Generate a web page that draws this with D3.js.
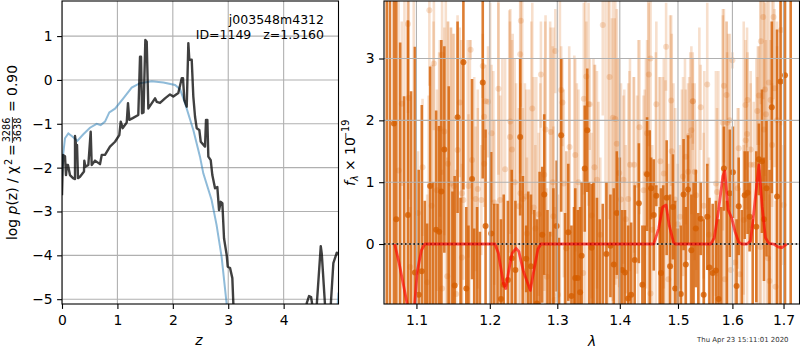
<!DOCTYPE html>
<html><head><meta charset="utf-8">
<script src="https://cdn.jsdelivr.net/npm/d3@7"></script>
<style>
html,body{margin:0;padding:0;background:#fff}
svg{display:block;font-family:"DejaVu Sans",sans-serif}
.tick text{font-size:13.9px;fill:#000}
</style></head><body><div id="c"></div>
<script>
const titleId="j003548m4312", titleLine="ID=1149   z=1.5160", stamp="Thu Apr 23 15:11:01 2020";
const zTicks=[0,1,2,3,4], logpTicks=[-5,-4,-3,-2,-1,0,1];
const waveTicks=[1.1,1.2,1.3,1.4,1.5,1.6,1.7], fluxTicks=[0,1,2,3];

const priorZ=[0.0,0.02,0.054,0.114,0.175,0.277,0.385,0.505,0.626,0.698,0.776,0.854,0.957,1.107,1.258,1.408,1.62,1.83,2.04,2.13,2.22,2.37,2.49,2.55,2.70,2.79,2.88,2.97,3.0,4.9,4.965,4.99];
const priorLogp=[-2.2,-1.71,-1.33,-1.22,-1.28,-1.39,-1.24,-1.09,-1.0,-1.03,-0.95,-0.74,-0.655,-0.42,-0.175,-0.075,-0.03,-0.06,-0.115,-0.21,-0.53,-1.14,-1.75,-2.13,-2.74,-3.31,-4.03,-5.09,-5.5,-5.5,-5.3,-4.85];

const pzZ=[0,0.018,0.054,0.072,0.09,0.108,0.144,0.199,0.235,0.235,0.253,0.271,0.289,0.325,0.397,0.403,0.421,0.475,0.518,0.536,0.596,0.686,0.717,0.776,0.866,0.957,1.034,1.06,1.096,1.168,1.191,1.215,1.276,1.377,1.408,1.426,1.444,1.471,1.504,1.529,1.558,1.679,1.709,1.769,1.859,1.949,2.009,2.099,2.161,2.184,2.208,2.251,2.28,2.298,2.341,2.37,2.401,2.431,2.478,2.504,2.581,2.599,2.623,2.641,2.684,2.713,2.762,2.803,2.834,2.865,2.894,2.924,2.973,2.991,3.033,3.074,3.092,3.11,4.4,4.417,4.458,4.495,4.518,4.597,4.67,4.688,4.747,4.85,4.897,4.959,4.987];
const pzLogp=[-2.63,-1.71,-1.74,-2.17,-1.94,-1.94,-2.17,-2.24,-2.26,-1.28,-1.48,-1.48,-2.24,-2.21,-2.09,-1.84,-1.98,-1.94,-1.18,-1.94,-1.84,-1.92,-1.71,-1.71,-1.52,-1.41,-1.26,-0.95,-1.10,-0.97,-0.53,-0.91,-0.87,-0.80,0.53,0.53,-0.76,-0.74,0.91,0.87,-0.65,-0.42,-0.50,-0.525,-0.42,-0.33,-0.38,-0.30,0.04,0.04,-0.46,-0.61,0.84,0.46,0.46,-0.38,-0.84,-1.10,-1.14,-1.41,-1.52,-0.91,-0.91,-1.75,-1.83,-2.17,-2.47,-2.44,-2.97,-2.78,-2.81,-3.61,-4.0,-4.26,-4.29,-4.52,-5.09,-5.5,-5.5,-5.09,-4.93,-4.95,-5.14,-5.14,-3.79,-3.96,-5.14,-5.14,-4.18,-3.94,-3.97];

const darkWave=[1.062,1.066,1.071,1.074,1.079,1.084,1.089,1.093,1.098,1.103,1.107,1.111,1.114,1.118,1.122,1.126,1.130,1.133,1.137,1.143,1.148,1.151,1.155,1.159,1.163,1.167,1.170,1.175,1.178,1.182,1.186,1.190,1.194,
1.202,1.2064,1.211,1.216,1.220,1.226,1.2316,1.237,1.244,1.248,1.253,1.256,1.260,1.265,1.269,1.273,1.277,1.280,1.285,1.289,1.294,1.299,1.3025,1.306,1.312,1.317,1.322,1.326,1.328,1.332,1.3356,1.338,1.343,1.347,1.350,
1.354,1.357,1.3626,1.367,1.372,1.378,1.3845,1.390,1.395,1.400,1.404,1.4086,1.414,1.419,1.425,1.432,1.438,1.442,1.446,1.4506,1.453,1.4575,1.462,1.468,1.470,1.474,1.480,1.486,1.491,1.495,1.4995,1.505,1.510,1.514,1.518,1.524,1.528,
1.532,1.5366,1.541,1.5464,1.553,1.557,1.563,1.569,1.574,1.579,1.584,1.5895,1.595,1.601,1.608,1.612,1.618,1.6235,1.629,1.633,1.639,1.646,1.651,1.657,1.661,1.666,1.672,1.6765,1.687,1.694,1.703,1.7145];
const darkFlux=[-1.3,-1.3,1.95,0.40,-1.3,-1.3,0.47,-1.3,-0.46,-0.82,-0.44,-1.3,-1.3,0.94,-1.3,0.23,0.20,0.85,1.53,-1.3,-1.3,-0.67,2.05,-1.3,2.94,-0.72,-1.3,1.05,-1.3,-1.3,-1.3,2.61,0.29,
0.17,-1.3,-1.3,-0.89,-0.66,-0.58,-0.23,-0.42,1.73,-1.3,-0.24,-1.3,-0.36,-1.3,-0.96,-1.3,0.15,0.80,-1.3,-1.3,-1.3,0.29,-1.3,1.76,-1.3,0.19,-0.84,-1.3,-0.55,-0.55,-0.78,-0.19,1.22,1.84,-1.3,
-0.06,-1.3,-1.3,-1.3,-1.3,-0.16,-0.03,-0.33,0.50,-1.3,-0.42,-0.46,-0.88,-0.82,-0.26,0.66,-0.66,-1.3,1.13,-1.3,0.90,0.47,0.78,-1.3,-0.47,-1.3,0.75,-0.36,0.60,-0.72,-1.3,-0.81,0.80,-0.33,0.88,-0.10,-1.3,
0.25,-1.3,0.41,-0.82,0.44,-0.38,-0.47,-0.43,-0.89,-1.3,1.22,-1.3,0.82,1.16,-0.68,0.61,-1.3,0.79,0.83,0.44,-1.3,0.28,1.37,1.34,0.40,0.90,-1.3,2.21,0.77,2.63,2.73,-1.3];
const darkTop=[5,5,5,5,3.26,2.39,3.62,2.47,3.19,1.2,2.25,0.7,0.33,2.87,1.0,2.16,1.91,3.3,3.2,2.55,0.85,1.1,3.6,0.75,5,0.6,0.3,2.67,0.25,0.6,0.2,4.16,1.85,
1.49,0.65,0.65,0.4,0.8,0.7,1.2,0.7,3.0,1.1,0.3,0.85,0.8,0.55,0.4,1.17,1.25,2.1,0.55,0.2,0.9,1.35,0.1,3.0,0.5,1.3,0.3,0.6,0.9,0.55,0.6,1.0,2.24,2.84,1.0,
0.97,1.0,0.75,0.4,0.65,1.0,0.8,0.9,1.5,1.4,0.55,0.55,0.3,0.35,0.95,1.63,0.3,0.3,2.05,1.84,1.4,1.37,0.95,0.6,0.9,0.95,1.68,0.8,1.45,0.7,0.25,0.3,1.7,0.6,1.76,0.8,1.0,
1.2,0.5,1.0,0.4,1.3,0.75,0.65,0.7,0.4,0.6,1.9,0.7,1.85,1.9,0.4,1.4,0.55,1.5,1.5,1.0,0.4,1.5,1.95,2.5,1.4,2.0,1.2,3.6,3.47,7,7.3,5];

const lightWave=[1.077,1.081,1.089,1.090,1.092,1.102,1.108,1.114,1.117,1.120,1.123,1.127,1.131,1.134,1.134,1.137,1.141,1.142,1.146,1.150,1.153,1.155,1.158,1.161,1.161,1.163,1.170,1.173,1.175,1.180,1.183,1.188,1.190,1.192,1.192,1.194,
1.0845,1.089,1.0965,1.116,1.1225,1.130,1.139,1.142,1.146,1.149,1.160,1.169,1.172,1.178,1.183,
1.1975,1.2025,1.2064,1.2123,1.2148,1.222,1.229,1.2296,1.232,1.236,1.242,1.244,1.2444,1.245,1.248,1.253,1.254,1.262,1.264,1.2666,1.2715,1.275,1.280,1.282,1.284,1.290,1.293,1.294,1.296,1.297,1.301,1.306,1.308,1.310,1.314,1.314,1.319,1.328,1.333,1.3405,1.3415,1.3455,1.349,
1.2005,1.205,1.2123,1.218,1.228,1.233,1.238,1.247,1.251,1.257,1.2605,1.268,1.274,1.2815,1.289,1.294,1.304,1.3185,1.3265,1.3305,1.344,
1.351,1.354,1.3586,1.3626,1.368,1.372,1.383,1.3885,1.3925,1.395,1.399,1.402,1.406,1.410,1.414,1.417,1.424,1.429,1.433,1.440,1.444,1.446,1.449,1.452,1.452,1.455,1.462,1.469,1.475,1.479,1.483,1.488,1.489,1.495,1.4995,1.5035,1.509,1.514,1.518,1.520,1.524,1.5265,
1.357,1.3596,1.365,1.3765,1.381,1.387,1.3915,1.396,1.4075,1.416,1.423,1.431,1.442,1.448,1.461,1.467,1.4735,1.478,1.486,1.492,1.507,1.5125,1.522,1.5265,
1.5268,1.530,1.5326,1.541,1.5464,1.553,1.556,1.569,1.571,1.582,1.584,1.5856,1.589,1.590,1.595,1.597,1.600,1.605,1.610,1.612,1.614,1.6216,1.625,1.6255,1.628,1.629,1.635,1.635,1.641,1.648,1.651,1.654,1.655,1.6595,1.661,1.663,1.665,1.669,1.6706,1.672,1.674,1.677,1.680,1.682,1.684,1.687,1.695,1.700,
1.5385,1.5475,1.5735,1.582,1.589,1.592,1.605,1.6216,1.628,1.646,1.649,1.654,1.661,1.667,1.677,1.687,1.693];
const lightFlux=[1.19,2.27,3.56,2.36,-0.37,0.50,1.24,-0.62,3.78,0.62,2.92,0.87,1.87,3.06,-0.72,1.82,-0.52,1.30,0.98,0.94,-0.81,1.52,2.29,0.82,-0.22,0.71,0.94,3.14,1.36,0.73,0.89,0.71,2.88,2.06,1.30,2.31,
-1.3,-1.3,-1.3,-1.3,-1.3,-1.3,-1.3,-1.3,-1.3,-1.3,-1.3,-1.3,-1.3,-1.3,-1.3,
2.30,1.79,0.67,2.51,0.71,1.21,1.73,1.98,1.53,1.0,0.61,3.07,0.82,3.61,0.73,0.77,0.17,2.19,0.59,0.25,0.48,2.74,1.12,1.85,-0.53,1.81,1.0,0.45,-0.9,3.12,-0.82,2.49,2.29,0.98,-0.07,-0.07,1.57,1.44,1.0,-0.47,2.35,2.71,2.26,
-1.3,-1.3,-1.3,-1.3,-1.3,-1.3,-1.3,-1.3,-1.3,-1.3,-1.3,-1.3,-1.3,-1.3,-1.3,-1.3,-1.3,-1.3,-1.3,-1.3,-1.3,
2.26,0.46,1.24,1.04,0.15,3.54,2.70,2.04,2.02,1.62,1.15,0.72,1.04,0.40,0.73,1.28,1.28,0.96,1.89,0.87,1.14,1.79,2.74,3.0,-0.80,0.23,2.26,1.34,1.14,3.19,-0.57,2.32,1.50,0.72,0.32,0.44,1.09,1.41,1.17,1.75,1.84,2.31,
-1.3,-1.3,-1.3,-1.3,-1.3,-1.3,-1.3,-1.3,-1.3,-1.3,-1.3,-1.3,-1.3,-1.3,-1.3,-1.3,-1.3,-1.3,-1.3,-1.3,-1.3,-1.3,-1.3,-1.3,
2.31,1.17,0.79,2.21,0.62,2.58,0.15,0.98,0.84,1.96,2.56,-0.57,2.41,1.96,2.0,-0.42,2.97,-0.3,0.90,1.55,-0.49,0.39,2.25,1.68,1.78,2.33,1.53,1.28,1.28,2.15,2.40,-0.05,3.28,3.67,1.85,2.50,2.10,-0.23,2.61,-0.60,2.33,1.60,3.67,2.52,-0.69,2.0,3.46,0.63,
-1.3,-1.3,-1.3,-1.3,-1.3,-1.3,-1.3,-1.3,-1.3,-1.3,-1.3,-1.3,-1.3,-1.3,-1.3,-1.3,-1.3];
const lightTop=[5,3.6,5,4,0.6,1.5,2.35,0.8,5,2.9,4,2.5,3.3,5,1.2,3.5,1.4,3.6,3.5,3.4,1.2,3.7,3.5,3,1.3,2,2.1,3.3,2,1.9,2.5,1.6,3.4,2.6,2,2.9,
5,5,5,2.4,3.6,3.1,5,3.6,3.5,3.4,3.3,3.3,3.3,2.7,2.2,
3.2,2.9,2.0,3.9,2.4,3,3.6,3.8,3.3,3,2.2,5,2.6,5,2.2,2.5,1.4,3.9,2.7,1.6,1.8,3.6,3,3.7,0.9,3.5,3.2,1.9,0.6,3.8,0.8,3.2,3,2.5,1.5,1.5,3,3,2.5,1.2,3.9,3.6,3.9,
3.9,2.8,5,3,3.78,3.4,2.6,5,2.6,2.5,3.6,2.7,2.6,3.6,3.6,3.5,5,3.2,3.05,2.6,5,
3,1.8,2.9,2.8,1.4,5,5,5,4.7,3.8,3,2.6,2.4,1.6,2.6,3,2.7,2.4,3.3,2.4,3,3.3,3.9,5,1,1.6,3.6,2.7,3,3.9,1.3,3.7,3.4,2.2,1.3,1.6,2.7,2.5,2.6,2.7,3.2,3.1,
3,2.9,2.3,5,5,3.65,3.65,3,2.5,2.8,2.7,3.3,2.5,5,3.1,2.7,2.7,2.65,3.7,2.6,2.5,3,3.1,2.6,
3,2.6,2,2.9,1.8,3.9,1.4,2.8,2.2,3.7,3.8,1,3.6,3.1,3.4,0.8,3.1,1.0,2.2,2.2,0.9,1.6,3.3,3,3,3.1,2.8,2.6,2.3,2.7,3.2,1.2,4.3,5,3,3.9,3.3,1.2,4,0.8,3.3,2.6,5,3.8,0.7,3.2,5,1.6,
3.5,2.8,2.8,3.8,3.6,3.4,2,3.6,3.5,3,3.2,5,5,5,5,3.6,3];

const modelWave=[1.072,1.0775,1.083,1.0885,1.091,1.096,1.101,1.1065,1.111,1.2074,1.2123,1.2197,1.223,1.227,1.232,1.238,1.242,1.249,1.259,1.264,1.2705,1.275,1.4575,1.466,1.473,1.479,1.4845,1.492,1.495,1.5595,1.566,1.574,1.582,1.5856,1.592,1.5987,1.605,1.612,1.618,1.628,1.635,1.641,1.651,1.6575,1.664,1.6706,1.680,1.690,1.697,1.703,1.7066];
const modelFlux=[0,-0.3,-0.65,-1.0,-1.25,-1.25,-0.45,-0.1,0,0,-0.15,-0.65,-0.72,-0.45,-0.15,-0.07,-0.12,-0.45,-0.75,-0.45,-0.08,0,0,0.25,0.6,0.63,0.3,0.03,0,0,0.1,0.55,1.1,1.18,0.55,0.42,0.2,0.03,0,0,0.05,0.5,1.28,0.6,0.1,0.01,0,-0.05,-0.06,-0.02,0];

const svg=d3.select("#c").append("svg").attr("width",800).attr("height",350);
const grey="#b0b0b0";
const xL=d3.scaleLinear().domain([0,4.99]).range([62,338.5]);
const yL=d3.scaleLinear().domain([-5.11,1.8]).range([304,1]);
const xR=d3.scaleLog().domain([1.0585,1.7325]).range([384,799.5]);
const yR=d3.scaleLinear().domain([-0.97,3.93]).range([304,1]);
const defs=svg.append("defs");
defs.append("clipPath").attr("id","cl").append("rect").attr("x",62).attr("y",1).attr("width",276.5).attr("height",303);
defs.append("clipPath").attr("id","cr").append("rect").attr("x",384).attr("y",1).attr("width",415.5).attr("height",303);

function grid(g,xs,xv,ys,yv,x0,x1,y0,y1){
  g.selectAll(".gx").data(xv).join("line").attr("class","gx").attr("x1",d=>xs(d)).attr("x2",d=>xs(d)).attr("y1",y0).attr("y2",y1).attr("stroke",grey).attr("stroke-width",1.1);
  g.selectAll(".gy").data(yv).join("line").attr("class","gy").attr("y1",d=>ys(d)).attr("y2",d=>ys(d)).attr("x1",x0).attr("x2",x1).attr("stroke",grey).attr("stroke-width",1.1);
}
function frame(x0,x1,y0,y1){
  svg.append("rect").attr("x",x0).attr("y",y0).attr("width",x1-x0).attr("height",y1-y0).attr("fill","none").attr("stroke","#000").attr("stroke-width",1.1);
}
function axes(xs,xv,ys,yv,x0,y1,fx){
  const ax=svg.append("g").attr("transform",`translate(0,${y1})`).call(d3.axisBottom(xs).tickValues(xv).tickFormat(fx).tickSize(4.9).tickPadding(6.5));
  const ay=svg.append("g").attr("transform",`translate(${x0},0)`).call(d3.axisLeft(ys).tickValues(yv).tickFormat(d3.format("d")).tickSize(4.9).tickPadding(4.5));
  [ax,ay].forEach(a=>{a.select(".domain").remove();a.selectAll("line").attr("stroke-width",1.1);a.selectAll("text").attr("font-family","DejaVu Sans");});
}

// left panel
const gl=svg.append("g");
grid(gl.append("g").attr("clip-path","url(#cl)"),xL,zTicks,yL,logpTicks,62,338.5,1,304);
const lineL=d3.line().x(d=>xL(d[0])).y(d=>yL(d[1]));
const pl=gl.append("g").attr("clip-path","url(#cl)");
pl.append("path").attr("d",lineL(d3.zip(priorZ,priorLogp))).attr("fill","none").attr("stroke","#1f77b4").attr("stroke-opacity",.5).attr("stroke-width",2);
pl.append("path").attr("d",lineL(d3.zip(pzZ,pzLogp))).attr("fill","none").attr("stroke","#000").attr("stroke-opacity",.75).attr("stroke-width",2.4).attr("stroke-linejoin","round");
frame(62,338.5,1,304);
axes(xL,zTicks,yL,logpTicks,62,304,d3.format("d"));
svg.append("text").attr("x",324).attr("y",24).attr("text-anchor","end").attr("font-size",12.5).text(titleId);
svg.append("text").attr("x",324).attr("y",39).attr("text-anchor","end").attr("font-size",12.5).style("white-space","pre").text(titleLine);
svg.append("text").attr("x",199).attr("y",345).attr("text-anchor","middle").attr("font-size",13.9).attr("font-style","italic").text("z");

// rotated left label
const yl=svg.append("g").attr("transform","translate(17,240) rotate(-90)").attr("font-size",13.9);
const yt=yl.append("text").attr("x",0).attr("y",0);
yt.append("tspan").text("log ");
yt.append("tspan").attr("font-style","italic").text("p");
yt.append("tspan").text("(z) / χ");
yl.append("text").attr("x",75).attr("y",-5).attr("font-size",9.7).text("2");
yl.append("text").attr("x",84).attr("y",0).text("=");
yl.append("text").attr("x",110).attr("y",-7).attr("font-size",9.7).attr("text-anchor","middle").text("3286");
yl.append("line").attr("x1",97).attr("x2",123).attr("y1",-4.6).attr("y2",-4.6).attr("stroke","#000").attr("stroke-width",.8);
yl.append("text").attr("x",110).attr("y",4).attr("font-size",9.7).attr("text-anchor","middle").text("3638");
yl.append("text").attr("x",128).attr("y",0).text("= 0.90");

// right panel
const gr=svg.append("g");
const pr=gr.append("g").attr("clip-path","url(#cr)");
function errs(wave,flux,top,color,op,w,r){
  const rows=d3.range(wave.length).map(i=>({w:wave[i],f:flux[i],t:top[i]}));
  pr.append("g").selectAll("line").data(rows).join("line")
    .attr("x1",d=>xR(d.w)).attr("x2",d=>xR(d.w)).attr("y1",d=>yR(d.t)).attr("y2",d=>yR(2*d.f-d.t))
    .attr("stroke",color).attr("stroke-opacity",op).attr("stroke-width",w);
  pr.append("g").selectAll("circle").data(rows).join("circle")
    .attr("cx",d=>xR(d.w)).attr("cy",d=>yR(d.f)).attr("r",r).attr("fill",color).attr("fill-opacity",op);
}
errs(lightWave,lightFlux,lightTop,"#D55E00",.2,2.6,3);
errs(darkWave,darkFlux,darkTop,"#D55E00",.8,2.6,3);
grid(gr.append("g"),xR,waveTicks,yR,fluxTicks,384,799.5,1,304);
const topLayer=gr.append("g").attr("clip-path","url(#cr)");
topLayer.append("line").attr("x1",384).attr("x2",799.5).attr("y1",yR(0)).attr("y2",yR(0)).attr("stroke","#000").attr("stroke-width",1.6).attr("stroke-dasharray","1.6 2.6");
topLayer.append("path").attr("d",d3.line().x(d=>xR(d[0])).y(d=>yR(d[1]))(d3.zip(modelWave,modelFlux))).attr("fill","none").attr("stroke","#ff0000").attr("stroke-opacity",.65).attr("stroke-width",2.8).attr("stroke-linejoin","round");
frame(384,799.5,1,304);
axes(xR,waveTicks,yR,fluxTicks,384,304,d3.format(".1f"));
svg.append("text").attr("x",592).attr("y",346).attr("text-anchor","middle").attr("font-size",13.9).attr("font-style","italic").text("λ");
const yr=svg.append("g").attr("transform","translate(355,186) rotate(-90)").attr("font-size",13.9);
const yrt=yr.append("text").attr("x",0).attr("y",0);
yrt.append("tspan").attr("font-style","italic").text("f");
yrt.append("tspan").attr("font-style","italic").attr("font-size",9.7).attr("dy",3).text("λ");
yrt.append("tspan").attr("dy",-3).text(" × 10");
yr.append("text").attr("x",46).attr("y",-6).attr("font-size",9.7).text("−19");
svg.append("text").attr("x",697).attr("y",342).attr("font-size",6.95).attr("fill","#333").text(stamp);
</script></body></html>
